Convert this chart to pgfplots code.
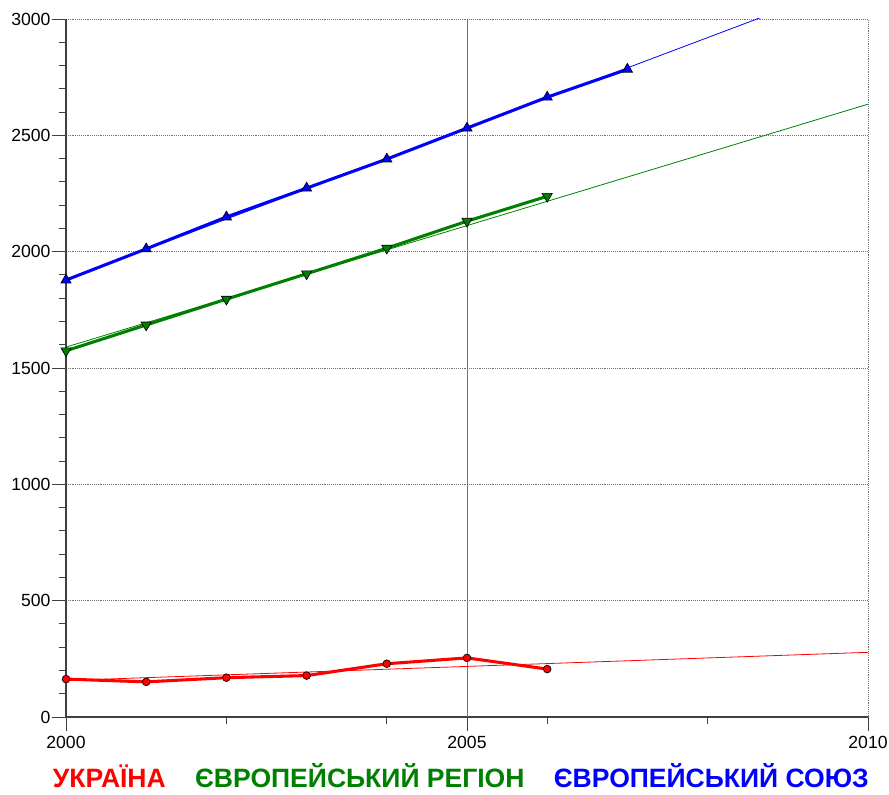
\documentclass[border=0pt]{standalone}
\usepackage{fontspec}
\setmainfont{Liberation Sans}
\usepackage{pgfplots}
\pgfplotsset{compat=1.18}
\definecolor{cred}{RGB}{255,0,0}
\definecolor{cgreen}{RGB}{0,128,0}
\definecolor{cblue}{RGB}{0,0,255}
\begin{document}
\begin{tikzpicture}
\useasboundingbox (-49.5pt,-57.75pt) rectangle (617.25pt,537.75pt);
\begin{axis}[
  scale only axis,
  width=601.5pt, height=523.5pt,
  xmin=2000, xmax=2010, ymin=0, ymax=3000,
  axis lines*=left,
  axis line style={-, black!75, line width=0.8pt},
  tick align=outside,
  major tick length=10.5pt, minor tick length=5.5pt,
  tick style={black!75, line width=0.7pt},
  xtick={2000,2010}, xticklabels={2000,2010},
  extra x ticks={2005}, extra x tick labels={2005},
  extra x tick style={major grid style={solid, black!55, line width=0.5pt}},
  minor x tick num=4,
  ytick={0,500,...,3000},
  minor y tick num=4,
  xmajorgrids, ymajorgrids,
  major grid style={densely dotted, black!55, line width=0.6pt},
  /pgf/number format/assume math mode=true,
  /pgf/number format/1000 sep={},
  tick label style={font=\fontsize{13.2}{15}\selectfont},
  yticklabel style={inner sep=1pt},
  xticklabel style={inner sep=1pt, yshift=-3pt},
  clip mode=individual,
  legend columns=3,
  legend image code/.code={},
  legend style={draw=none, fill=none, at={(0,0)}, anchor=north west,
    xshift=-15pt, yshift=-31pt,
    font=\fontsize{19.9}{22}\bfseries\selectfont,
    column sep=0pt,
    /tikz/column 2/.style={column sep=18pt},
    /tikz/column 4/.style={column sep=18pt}},
]
% trend lines
\addplot[cred, line width=0.6pt, forget plot] coordinates {(2000,157) (2010,278)};
\addplot[cgreen, line width=0.6pt, forget plot] coordinates {(2000,1590) (2010,2634)};
\addplot[cblue, line width=0.6pt, forget plot] coordinates {(2000,1880) (2010,3180)};
% data
\addplot[cred, line width=2.3pt, mark=*, mark size=2.9pt,
  mark options={fill=cred, draw=black, line width=0.5pt}] coordinates {
  (2000,163) (2001,151) (2002,169) (2003,178) (2004,229) (2005,254) (2006,206)};
\addlegendentry{\textcolor{cred}{УКРАЇНА}}
\addplot[cgreen, line width=2.3pt, mark=triangle*, mark size=4.4pt,
  mark options={fill=cgreen, draw=black, line width=0.5pt, rotate=180}] coordinates {
  (2000,1574) (2001,1685) (2002,1796) (2003,1905) (2004,2015) (2005,2131) (2006,2238)};
\addlegendentry{\textcolor{cgreen}{ЄВРОПЕЙСЬКИЙ РЕГІОН}}
\addplot[cblue, line width=2.3pt, mark=triangle*, mark size=4.4pt,
  mark options={fill=cblue, draw=black, line width=0.5pt}] coordinates {
  (2000,1878) (2001,2012) (2002,2149) (2003,2273) (2004,2398) (2005,2531) (2006,2664) (2007,2784)};
\addlegendentry{\textcolor{cblue}{ЄВРОПЕЙСЬКИЙ СОЮЗ}}
\end{axis}
\end{tikzpicture}
\end{document}
